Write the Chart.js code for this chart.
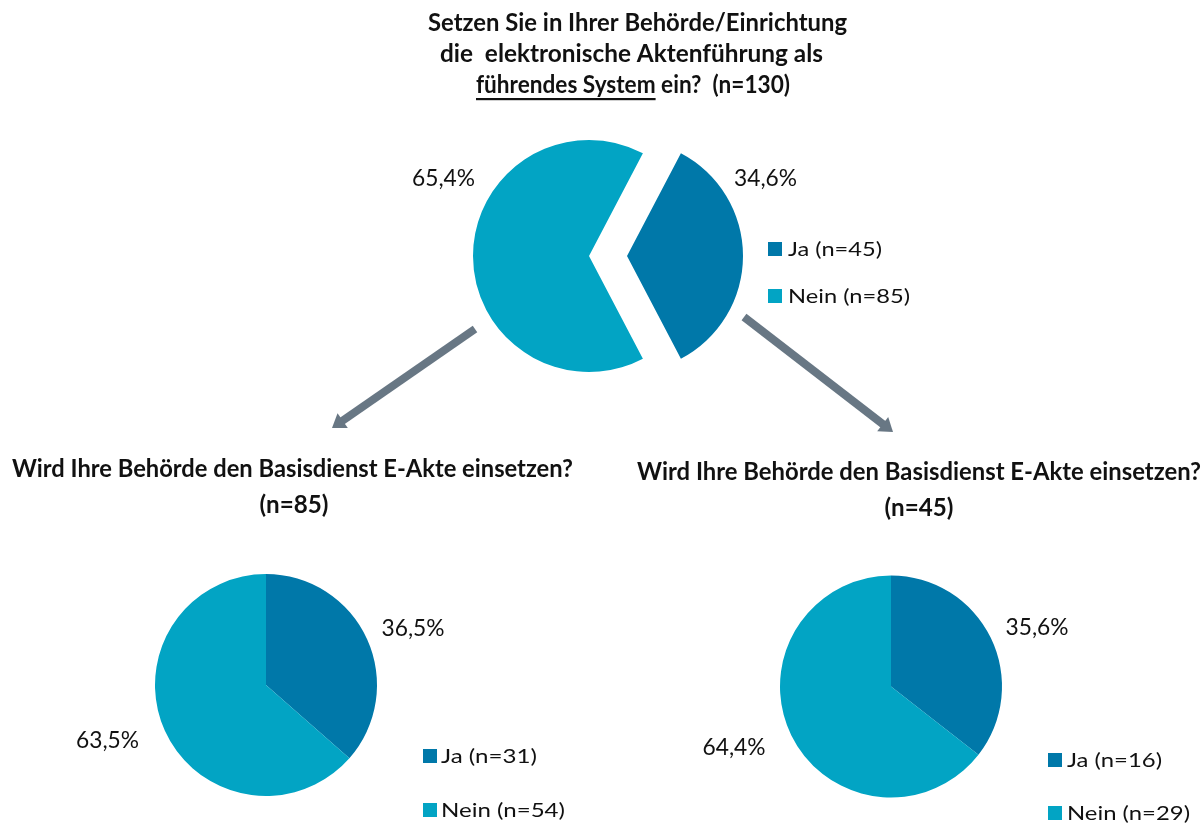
<!DOCTYPE html>
<html>
<head>
<meta charset="utf-8">
<script src="https://cdn.jsdelivr.net/npm/chart.js@4.4.0/dist/chart.umd.min.js"></script>
<style>
  html, body { margin: 0; padding: 0; background: #ffffff; }
  #stage { position: relative; width: 1204px; height: 823px; overflow: hidden; background: #ffffff; }
  #stage canvas { position: absolute; left: 0; top: 0; }
</style>
</head>
<body>
<div id="stage">
  <canvas id="pieMain" width="1204" height="823"></canvas>
  <canvas id="pieLeft" width="1204" height="823"></canvas>
  <canvas id="pieRight" width="1204" height="823"></canvas>
</div>
<script>
// ---- survey data ----
const answerLabels = ['Ja', 'Nein'];
const leadingSystemCounts = [45, 85];   // E-Akte als führendes System (n=130)
const basisdienstNein = [31, 54];       // Gruppe "Nein" aus der ersten Frage (n=85)
const basisdienstJa = [16, 29];         // Gruppe "Ja" aus der ersten Frage (n=45)
const answerColors = ['#0078a9', '#02a4c4'];

const mainTitleLines = ['Setzen Sie in Ihrer Behörde/Einrichtung', 'die  elektronische Aktenführung als'];
const mainTitleEmphasis = 'führendes System';
const mainTitleTail = ' ein?  (n=';
const subQuestion = 'Wird Ihre Behörde den Basisdienst E-Akte einsetzen?';

// ---- helpers ----
const FONT = 'Lato, "Open Sans", "Noto Sans", sans-serif';
const sum = a => a.reduce((s, v) => s + v, 0);
const pctText = (v, total) => (Math.round(v / total * 1000) / 10).toFixed(1).replace('.', ',') + '%';

// draws text stretched/compressed horizontally to a given width
function fitText(ctx, text, x, y, width, align) {
  const w = ctx.measureText(text).width;
  const s = width / w;
  ctx.save();
  ctx.translate(x, y);
  ctx.scale(s, 1);
  ctx.textAlign = 'left';
  ctx.textBaseline = 'alphabetic';
  ctx.fillText(text, align === 'center' ? -w / 2 : 0, 0);
  ctx.restore();
}

function drawArrow(ctx, x1, y1, x2, y2) {
  const ang = Math.atan2(y2 - y1, x2 - x1);
  const headLen = 13, headHalf = 9;
  const bx = x2 - Math.cos(ang) * headLen, by = y2 - Math.sin(ang) * headLen;
  ctx.save();
  ctx.strokeStyle = '#687784';
  ctx.fillStyle = '#687784';
  ctx.lineWidth = 8;
  ctx.lineCap = 'butt';
  ctx.beginPath();
  ctx.moveTo(x1, y1);
  ctx.lineTo(bx + Math.cos(ang) * 2, by + Math.sin(ang) * 2);
  ctx.stroke();
  ctx.beginPath();
  ctx.moveTo(x2, y2);
  ctx.lineTo(bx + Math.cos(ang + Math.PI / 2) * headHalf, by + Math.sin(ang + Math.PI / 2) * headHalf);
  ctx.lineTo(bx + Math.cos(ang - Math.PI / 2) * headHalf, by + Math.sin(ang - Math.PI / 2) * headHalf);
  ctx.closePath();
  ctx.fill();
  ctx.restore();
}

// pulls selected slices straight out from the centre by a fixed distance
const explodeSlices = {
  id: 'explodeSlices',
  afterDatasetUpdate(chart, args, opts) {
    const dist = opts.distances || [];
    args.meta.data.forEach((arc, i) => {
      const d = dist[i] || 0;
      if (!d) return;
      const mid = (arc.startAngle + arc.endAngle) / 2;
      arc.x += Math.cos(mid) * d;
      arc.y += Math.sin(mid) * d;
    });
  }
};

// annotation plugin: question titles, percentage labels and legend
const annotations = {
  id: 'annotations',
  afterDraw(chart, args, opts) {
    const ctx = chart.ctx;
    const counts = chart.data.datasets[0].data;
    const total = sum(counts);
    ctx.save();
    ctx.fillStyle = '#111111';

    if (opts.arrows) {
      opts.arrows.forEach(a => drawArrow(ctx, a[0], a[1], a[2], a[3]));
    }

    // title
    if (opts.mainTitle) {
      ctx.font = 'bold 25px ' + FONT;
      const t = opts.mainTitle;
      mainTitleLines.forEach((line, i) => fitText(ctx, line, t.centers[i], t.baselines[i], t.widths[i], 'center'));
      const tail = mainTitleTail + total + ')';
      const wE = ctx.measureText(mainTitleEmphasis).width;
      const wT = ctx.measureText(tail).width;
      const s = t.lastWidth / (wE + wT);
      ctx.save();
      ctx.translate(t.lastLeft, t.baselines[2]);
      ctx.scale(s, 1);
      ctx.textAlign = 'left';
      ctx.fillText(mainTitleEmphasis, 0, 0);
      ctx.fillText(tail, wE, 0);
      ctx.fillRect(0, 5, wE, 2.2);
      ctx.restore();
    }
    if (opts.subTitle) {
      const t = opts.subTitle;
      ctx.font = 'bold 24px ' + FONT;
      fitText(ctx, subQuestion, t.cx, t.baseline, t.width, 'center');
      fitText(ctx, '(n=' + total + ')', t.nCx, t.nBaseline, t.nWidth, 'center');
    }

    // percentage labels
    ctx.font = '24px ' + FONT;
    opts.pct.forEach((p, i) => fitText(ctx, pctText(counts[i], total), p[0], p[1], 63, 'center'));

    // legend
    const lg = opts.legend;
    ctx.font = '20px ' + FONT;
    chart.data.labels.forEach((lab, i) => {
      ctx.fillStyle = chart.data.datasets[0].backgroundColor[i];
      ctx.fillRect(lg.x, lg.ys[i], 14, 14);
      ctx.fillStyle = '#111111';
      fitText(ctx, lab + ' (n=' + counts[i] + ')', lg.tx, lg.ys[i] + 14, lg.widths[i], 'left');
    });
    ctx.restore();
  }
};

function makePie(id, counts, cfg) {
  const W = 1204, H = 823, box = 280;
  new Chart(document.getElementById(id), {
    type: 'pie',
    data: {
      labels: answerLabels,
      datasets: [{
        data: counts,
        backgroundColor: answerColors,
        borderWidth: 0,
        hoverOffset: 0
      }]
    },
    options: {
      responsive: false,
      animation: false,
      events: [],
      rotation: cfg.rotation,
      radius: cfg.r,
      layout: {
        padding: {
          left: cfg.cx - box / 2,
          right: W - cfg.cx - box / 2,
          top: cfg.cy - box / 2,
          bottom: H - cfg.cy - box / 2
        }
      },
      plugins: {
        legend: { display: false },
        tooltip: { enabled: false },
        title: { display: false },
        explodeSlices: { distances: cfg.explode || [] },
        annotations: cfg.annotations
      }
    },
    plugins: [explodeSlices, annotations]
  });
}

// top pie: the "Ja" slice is centred on the right-hand side and pulled out
const jaShare = leadingSystemCounts[0] / sum(leadingSystemCounts);
makePie('pieMain', leadingSystemCounts, {
  cx: 589, cy: 256, r: 116,
  rotation: 90 - 180 * jaShare,
  explode: [38, 0],
  annotations: {
    arrows: [[475, 329, 332, 428], [744, 317, 893, 432]],
    mainTitle: { centers: [637.5, 631.5], baselines: [31, 62, 93], widths: [419, 383], lastLeft: 476, lastWidth: 314 },
    pct: [[765.5, 186], [443.5, 186]],
    legend: { x: 768, ys: [242, 289], tx: 788, widths: [94, 122] }
  }
});

makePie('pieLeft', basisdienstNein, {
  cx: 266, cy: 687, r: 111, rotation: 0,
  annotations: {
    subTitle: { cx: 292.5, baseline: 477, width: 561, nCx: 294, nBaseline: 513, nWidth: 69 },
    pct: [[413, 636], [107.5, 748]],
    legend: { x: 423, ys: [749, 803], tx: 441, widths: [96, 124] }
  }
});

makePie('pieRight', basisdienstJa, {
  cx: 891, cy: 690, r: 111, rotation: 0,
  annotations: {
    subTitle: { cx: 919, baseline: 480, width: 564, nCx: 919, nBaseline: 516, nWidth: 69 },
    pct: [[1037, 635], [734, 755]],
    legend: { x: 1048, ys: [753, 806], tx: 1067, widths: [95, 123] }
  }
});
</script>
</body>
</html>
